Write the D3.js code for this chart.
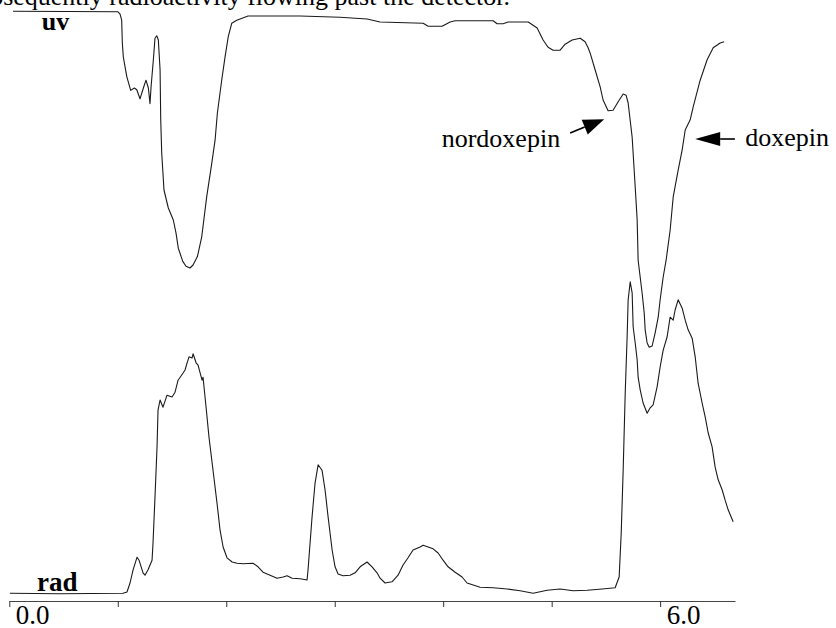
<!DOCTYPE html>
<html>
<head>
<meta charset="utf-8">
<script src="https://cdn.jsdelivr.net/npm/d3@7"></script>
<style>
  html, body { margin: 0; padding: 0; background: #fff; }
  svg { display: block; }
  text { font-family: "Liberation Serif", "Times New Roman", "DejaVu Serif", serif; fill: #000; }
</style>
</head>
<body>
<svg id="chart" width="836" height="628"></svg>
<script>
// ---- data (time in min, detector signal in arbitrary units) ----
const uvTime = [0.034,1.002,1.021,1.036,1.042,1.051,1.083,1.119,1.153,1.175,1.205,1.236,1.260,1.282,1.297,1.307,1.328,1.343,1.359,1.374,1.390,1.396,1.405,1.426,1.466,1.512,1.537,1.558,1.599,1.629,1.666,1.694,1.734,1.774,1.820,1.866,1.897,1.918,1.958,1.989,2.019,2.051,2.097,2.201,2.681,3.049,3.298,3.418,3.815,3.861,3.990,4.064,4.110,4.460,4.497,4.552,4.599,4.783,4.801,4.866,4.921,4.967,5.013,5.078,5.124,5.189,5.263,5.308,5.336,5.355,5.401,5.447,5.474,5.520,5.566,5.613,5.659,5.686,5.705,5.742,5.770,5.788,5.797,5.834,5.853,5.862,5.880,5.899,5.926,5.954,5.982,6.000,6.028,6.055,6.092,6.120,6.166,6.203,6.231,6.277,6.304,6.369,6.433,6.489,6.553,6.590];
const uvValue = [98.3,98.2,97.8,96.8,93.0,90.7,87.4,85.1,85.5,85.2,83.7,85.5,86.8,85.5,82.9,85.7,90.2,93.8,94.2,93.5,88.5,80.2,74.7,68.5,65.5,63.5,61.3,58.8,56.6,55.8,55.5,56.0,57.4,60.7,67.4,72.9,76.8,81.3,86.8,90.7,94.1,96.3,96.8,97.5,97.5,97.3,97.0,96.5,96.3,95.8,95.8,96.5,96.7,96.7,96.2,96.2,96.5,96.5,96.3,95.5,93.5,92.3,91.8,91.8,92.8,93.5,93.8,93.2,92.2,91.3,88.5,85.7,83.5,81.7,81.8,83.2,84.5,84.3,83.0,77.3,69.0,63.5,56.8,51.3,48.0,45.2,43.0,42.3,42.5,44.7,47.3,50.2,54.0,56.8,61.8,67.3,71.8,75.2,78.5,80.2,82.3,86.8,90.2,92.2,93.0,93.2];

const radTime = [0.006,0.467,1.048,1.085,1.113,1.141,1.178,1.196,1.233,1.251,1.279,1.316,1.325,1.343,1.362,1.371,1.390,1.417,1.454,1.500,1.528,1.556,1.602,1.620,1.639,1.657,1.685,1.694,1.722,1.740,1.777,1.786,1.814,1.841,1.878,1.915,1.943,1.971,2.007,2.054,2.100,2.155,2.247,2.293,2.339,2.404,2.468,2.524,2.561,2.607,2.681,2.745,2.754,2.791,2.819,2.847,2.883,2.911,2.939,2.976,3.003,3.031,3.077,3.142,3.188,3.234,3.298,3.344,3.390,3.418,3.464,3.528,3.584,3.630,3.676,3.722,3.787,3.815,3.861,3.907,3.953,3.999,4.045,4.110,4.174,4.220,4.340,4.460,4.590,4.709,4.829,4.958,5.078,5.198,5.327,5.466,5.585,5.622,5.641,5.659,5.678,5.696,5.705,5.724,5.742,5.751,5.770,5.788,5.797,5.816,5.843,5.880,5.908,5.935,5.972,6.000,6.028,6.064,6.092,6.120,6.138,6.166,6.203,6.231,6.258,6.295,6.323,6.350,6.387,6.415,6.443,6.479,6.507,6.535,6.572,6.599,6.627,6.673];
const radValue = [1.3,1.2,1.3,1.5,3.0,5.2,7.3,6.8,4.7,4.3,5.2,6.8,9.7,17.3,25.7,31.8,33.5,32.3,34.3,34.0,34.8,36.8,38.0,38.5,39.7,40.7,40.5,41.2,39.7,39.3,36.8,37.3,32.3,27.3,21.8,16.3,11.8,9.0,7.2,6.5,6.3,6.2,6.3,5.7,4.8,4.3,3.8,4.0,4.2,3.8,3.7,3.5,5.2,14.0,19.7,22.7,21.8,18.5,14.0,8.5,5.7,4.5,4.2,4.3,4.7,5.7,6.5,5.7,4.7,3.8,3.0,3.2,4.3,6.0,7.2,8.5,9.0,9.3,9.0,8.7,8.0,6.8,5.7,4.8,4.0,3.0,2.3,2.2,2.0,1.7,1.3,1.8,2.0,1.7,1.8,2.0,2.2,4.0,11.3,21.8,34.7,44.3,50.2,53.2,51.3,45.7,43.0,40.2,37.3,35.2,33.0,31.3,32.2,32.7,35.7,39.0,41.8,44.0,47.3,46.8,48.5,50.2,48.8,46.8,45.2,43.8,40.7,36.3,33.0,30.7,28.0,25.7,22.3,20.2,18.5,16.8,15.2,13.2];

const tickValues = [0, 1, 2, 3, 4, 5, 6];
const tickLabels = ["0.0", "", "", "", "", "", "6.0"];

const traceLabels = ["uv", "rad"];
const peakNames = ["nordoxepin", "doxepin"];
const caption = "and subsequently radioactivity flowing past the detector.";

// ---- scales ----
const svg = d3.select("#chart");
const x = d3.scaleLinear().domain([0, 6.69]).range([9.3, 735]);
const y = d3.scaleLinear().domain([0, 100]).range([601, 1]);

const ink = "#1a1a1a";

// caption cut off at top
svg.append("text")
  .attr("x", 510).attr("y", 5)
  .attr("text-anchor", "end")
  .style("font-size", "26px")
  .text(caption);

// axis
const axis = d3.axisBottom(x)
  .tickValues(tickValues)
  .tickSize(6)
  .tickSizeOuter(0)
  .tickFormat((d, i) => tickLabels[i]);

const gAxis = svg.append("g")
  .attr("transform", `translate(0,${y(0)})`)
  .call(axis);
gAxis.select(".domain").attr("stroke", "#444").attr("stroke-width", 1);
gAxis.selectAll(".tick line").attr("stroke", "#333").attr("stroke-width", 1);
gAxis.selectAll(".tick text")
  .attr("text-anchor", "start")
  .attr("x", 6)
  .attr("y", 23)
  .attr("dy", 0)
  .style("font-size", "27px")
  .style("font-family", '"Liberation Serif", "Times New Roman", serif')
  .attr("fill", "#000");

// traces
const line = d3.line().x(d => x(d[0])).y(d => y(d[1])).curve(d3.curveLinear);
const uvData = uvTime.map((t, i) => [t, uvValue[i]]);
const radData = radTime.map((t, i) => [t, radValue[i]]);

svg.append("path").datum(uvData)
  .attr("d", line).attr("fill", "none")
  .attr("stroke", ink).attr("stroke-width", 1.1).attr("stroke-linejoin", "round");
svg.append("path").datum(radData)
  .attr("d", line).attr("fill", "none")
  .attr("stroke", ink).attr("stroke-width", 1.1).attr("stroke-linejoin", "round");

// trace labels
svg.append("text")
  .attr("x", x(0.30)).attr("y", y(95.1))
  .style("font-size", "26px").style("font-weight", "bold")
  .text(traceLabels[0]);
svg.append("text")
  .attr("x", x(0.255)).attr("y", y(1.75))
  .style("font-size", "27px").style("font-weight", "bold")
  .text(traceLabels[1]);

// arrows
function arrow(tail, tip, headLen, headHalf) {
  const x0 = x(tail[0]), y0 = y(tail[1]), x1 = x(tip[0]), y1 = y(tip[1]);
  const dx = x1 - x0, dy = y1 - y0, L = Math.hypot(dx, dy);
  const ux = dx / L, uy = dy / L;
  const bx = x1 - ux * headLen, by = y1 - uy * headLen;
  svg.append("line")
    .attr("x1", x0).attr("y1", y0).attr("x2", bx).attr("y2", by)
    .attr("stroke", "#000").attr("stroke-width", 1.6);
  svg.append("path")
    .attr("d", `M${x1},${y1}L${bx - uy * headHalf},${by + ux * headHalf}L${bx + uy * headHalf},${by - ux * headHalf}Z`)
    .attr("fill", "#000");
}
arrow([5.170, 78.0], [5.484, 80.3], 21, 8);
arrow([6.689, 77.0], [6.323, 77.0], 25, 7);

// peak labels
svg.append("text")
  .attr("x", x(5.078)).attr("y", y(75.7))
  .attr("text-anchor", "end")
  .style("font-size", "26px")
  .text(peakNames[0]);
svg.append("text")
  .attr("x", x(6.784)).attr("y", y(75.8))
  .style("font-size", "26px")
  .text(peakNames[1]);
</script>
</body>
</html>
